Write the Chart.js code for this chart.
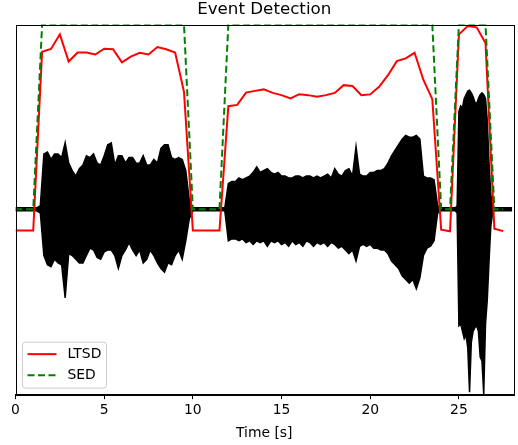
<!DOCTYPE html>
<html>
<head>
<meta charset="utf-8">
<script src="https://cdn.jsdelivr.net/npm/chart.js@4.4.0/dist/chart.umd.min.js"></script>
<style>
  html, body { margin: 0; padding: 0; background: #fff; }
  #wrap { width: 518px; height: 445px; }
</style>
</head>
<body>
<div id="wrap"><canvas id="myChart" width="518" height="445"></canvas></div>
<script>
// LTSD / SED frames, every 0.5 s
var frameTime = [0, 0.5, 1, 1.5, 2, 2.5, 3, 3.5, 4, 4.5, 5, 5.5, 6, 6.5, 7, 7.5, 8, 8.5, 9, 9.5,
    10, 10.5, 11, 11.5, 12, 12.5, 13, 13.5, 14, 14.5, 15, 15.5, 16, 16.5, 17, 17.5, 18, 18.5, 19, 19.5,
    20, 20.5, 21, 21.5, 22, 22.5, 23, 23.5, 24, 24.5, 25, 25.5, 26, 26.5, 27, 27.5]
var ltsd = [-0.115, -0.115, -0.115, 0.853, 0.868, 0.947, 0.80, 0.849, 0.849, 0.838, 0.869, 0.866, 0.795, 0.826, 0.847, 0.838, 0.878, 0.866, 0.849, 0.636,
    -0.115, -0.115, -0.115, -0.115, 0.558, 0.565, 0.632, 0.641, 0.649, 0.630, 0.618, 0.600, 0.623, 0.618, 0.609, 0.618, 0.630, 0.672, 0.667, 0.618,
    0.622, 0.663, 0.726, 0.802, 0.817, 0.847, 0.700, 0.596, -0.110, -0.119, 0.947, 0.992, 0.985, 0.900, -0.105, -0.118]
var sed = [0, 0, 0, 1, 1, 1, 1, 1, 1, 1, 1, 1, 1, 1, 1, 1, 1, 1, 1, 1,
    0, 0, 0, 0, 1, 1, 1, 1, 1, 1, 1, 1, 1, 1, 1, 1, 1, 1, 1, 1,
    1, 1, 1, 1, 1, 1, 1, 1, 0, 0, 1, 1, 1, 1, 0, 0]

// waveform envelope (upper / lower)
var waveTime = [
    0, 0.2, 0.4, 0.6, 0.8, 1, 1.2, 1.4, 1.6, 1.8, 2, 2.2, 2.4, 2.6, 2.8, 3, 3.2, 3.4, 3.6, 3.8,
    4, 4.2, 4.4, 4.6, 4.8, 5, 5.2, 5.4, 5.6, 5.8, 6, 6.2, 6.4, 6.6, 6.8, 7, 7.2, 7.4, 7.6, 7.8,
    8, 8.2, 8.4, 8.6, 8.8, 9, 9.2, 9.4, 9.6, 9.8, 10, 10.2, 10.4, 10.6, 10.8, 11, 11.2, 11.4, 11.6, 11.8,
    12, 12.2, 12.4, 12.6, 12.8, 13, 13.2, 13.4, 13.6, 13.8, 14, 14.2, 14.4, 14.6, 14.8, 15, 15.2, 15.4, 15.6, 15.8,
    16, 16.2, 16.4, 16.6, 16.8, 17, 17.2, 17.4, 17.6, 17.8, 18, 18.2, 18.4, 18.6, 18.8, 19, 19.2, 19.4, 19.6, 19.8,
    20, 20.2, 20.4, 20.6, 20.8, 21, 21.2, 21.4, 21.6, 21.8, 22, 22.2, 22.4, 22.6, 22.8, 23, 23.2, 23.4, 23.6, 23.8,
    24, 24.2, 24.4, 24.6, 24.8, 24.9, 25, 25.1, 25.2, 25.3, 25.4, 25.5, 25.6, 25.7, 25.8, 25.9,
    26, 26.1, 26.2, 26.3, 26.4, 26.5, 26.6, 26.7, 26.8, 26.9, 27, 27.2, 27.4, 27.6, 27.8, 28]
var waveUpper = [
    0.008, 0.008, 0.008, 0.008, 0.008, 0.008, 0.008, 0.02, 0.30, 0.31, 0.27, 0.30, 0.30, 0.28, 0.36, 0.25, 0.21, 0.18, 0.22, 0.24,
    0.29, 0.28, 0.30, 0.25, 0.24, 0.29, 0.35, 0.36, 0.24, 0.29, 0.29, 0.25, 0.28, 0.28, 0.25, 0.25, 0.29, 0.24, 0.24, 0.27,
    0.25, 0.33, 0.35, 0.35, 0.28, 0.27, 0.28, 0.27, 0.21, 0.05, 0.008, 0.008, 0.008, 0.008, 0.008, 0.008, 0.008, 0.008, 0.008, 0.008,
    0.14, 0.15, 0.15, 0.17, 0.16, 0.17, 0.18, 0.20, 0.23, 0.20, 0.21, 0.22, 0.20, 0.19, 0.20, 0.18, 0.18, 0.17, 0.17, 0.18,
    0.18, 0.17, 0.18, 0.18, 0.17, 0.18, 0.17, 0.18, 0.19, 0.17, 0.22, 0.19, 0.18, 0.21, 0.22, 0.18, 0.34, 0.19, 0.18, 0.18,
    0.20, 0.20, 0.21, 0.21, 0.22, 0.25, 0.29, 0.32, 0.35, 0.38, 0.40, 0.39, 0.39, 0.40, 0.38, 0.18, 0.17, 0.17, 0.16, 0.02,
    0.008, 0.008, 0.008, 0.008, 0.008, 0.02, 0.53, 0.56, 0.55, 0.60, 0.62, 0.64, 0.645, 0.63, 0.61, 0.58,
    0.57, 0.60, 0.62, 0.63, 0.62, 0.60, 0.48, 0.25, 0.08, 0.02, 0.008, 0.008, 0.008, 0.008, 0.008, 0.008]
var waveLower = [
    -0.008, -0.008, -0.008, -0.008, -0.008, -0.008, -0.008, -0.02, -0.25, -0.30, -0.31, -0.27, -0.29, -0.30, -0.48, -0.24, -0.25, -0.27, -0.29, -0.29,
    -0.25, -0.21, -0.22, -0.26, -0.27, -0.23, -0.22, -0.22, -0.25, -0.32, -0.25, -0.22, -0.18, -0.22, -0.25, -0.22, -0.29, -0.27, -0.22, -0.25,
    -0.29, -0.32, -0.34, -0.29, -0.30, -0.25, -0.22, -0.27, -0.17, -0.05, -0.008, -0.008, -0.008, -0.008, -0.008, -0.008, -0.008, -0.008, -0.008, -0.008,
    -0.17, -0.16, -0.16, -0.17, -0.16, -0.18, -0.17, -0.19, -0.17, -0.18, -0.17, -0.20, -0.17, -0.18, -0.17, -0.19, -0.18, -0.20, -0.17, -0.19,
    -0.18, -0.20, -0.17, -0.18, -0.20, -0.18, -0.19, -0.18, -0.20, -0.18, -0.19, -0.21, -0.20, -0.22, -0.24, -0.22, -0.28, -0.20, -0.19, -0.20,
    -0.19, -0.21, -0.21, -0.22, -0.22, -0.24, -0.28, -0.30, -0.32, -0.36, -0.38, -0.40, -0.38, -0.43, -0.37, -0.25, -0.21, -0.20, -0.17, -0.02,
    -0.008, -0.008, -0.008, -0.008, -0.008, -0.02, -0.63, -0.62, -0.66, -0.70, -0.68, -0.75, -0.99, -0.72, -0.66, -0.64,
    -0.63, -0.66, -0.80, -0.82, -1.0, -0.62, -0.49, -0.28, -0.09, -0.02, -0.008, -0.008, -0.008, -0.008, -0.008, -0.008]

var xTicks = [0, 5, 10, 15, 20, 25]

function pts(xs, ys) {
    return xs.map(function(x, i) { return { x: x, y: ys[i] } })
}

var FONT = "'DejaVu Sans', sans-serif"

// matplotlib-like box around the axes + legend inside the plot
var framePlugin = {
    id: 'frame',
    afterDraw: function(chart) {
        var ctx = chart.ctx
        var a = chart.chartArea
        ctx.save()
        ctx.strokeStyle = '#000'
        ctx.lineWidth = 1
        ctx.strokeRect(Math.round(a.left) + 0.5, Math.round(a.top) + 0.5,
            Math.round(a.right - a.left), Math.round(a.bottom - a.top))

        // legend
        var lx = a.left + 7, ly = a.bottom - 52
        ctx.beginPath()
        ctx.roundRect(lx, ly, 84, 46, 3)
        ctx.fillStyle = 'rgba(255,255,255,0.8)'
        ctx.fill()
        ctx.strokeStyle = '#cccccc'
        ctx.lineWidth = 1
        ctx.stroke()

        ctx.lineWidth = 2
        ctx.strokeStyle = '#ff0000'
        ctx.beginPath()
        ctx.moveTo(lx + 5, ly + 12)
        ctx.lineTo(lx + 34, ly + 12)
        ctx.stroke()

        ctx.strokeStyle = '#008000'
        ctx.setLineDash([7, 3.5])
        ctx.beginPath()
        ctx.moveTo(lx + 5, ly + 33)
        ctx.lineTo(lx + 34, ly + 33)
        ctx.stroke()
        ctx.setLineDash([])

        ctx.fillStyle = '#000'
        ctx.font = '13.9px ' + FONT
        ctx.textBaseline = 'middle'
        ctx.fillText('LTSD', lx + 45, ly + 12)
        ctx.fillText('SED', lx + 45, ly + 33)
        ctx.restore()
    }
}

var ctx = document.getElementById('myChart').getContext('2d')
var myChart = new Chart(ctx, {
    type: 'line',
    data: {
        datasets: [{
            label: 'SED',
            data: pts(frameTime, sed),
            borderColor: '#008000',
            borderWidth: 2,
            borderDash: [7, 3.5],
            pointRadius: 0,
            fill: false
        }, {
            label: 'LTSD',
            data: pts(frameTime, ltsd),
            borderColor: '#ff0000',
            borderWidth: 2,
            pointRadius: 0,
            fill: false
        }, {
            label: 'signal',
            data: pts(waveTime, waveUpper),
            borderColor: '#000',
            backgroundColor: '#000',
            borderWidth: 1.5,
            pointRadius: 0,
            fill: '+1'
        }, {
            label: 'signal-low',
            data: pts(waveTime, waveLower),
            borderColor: '#000',
            borderWidth: 1.5,
            pointRadius: 0,
            fill: false
        }]
    },
    options: {
        responsive: false,
        animation: false,
        devicePixelRatio: 1,
        layout: { padding: { left: 15.5, right: 5, top: 0, bottom: 0 } },
        elements: { line: { tension: 0 } },
        plugins: {
            legend: { display: false },
            tooltip: { enabled: false },
            title: {
                display: true,
                text: 'Event Detection',
                color: '#000',
                font: { family: FONT, size: 16.7, weight: 'normal' },
                padding: { top: 0, bottom: 4.5 }
            }
        },
        scales: {
            x: {
                type: 'linear',
                min: 0,
                max: 28.05,
                afterBuildTicks: function(axis) {
                    axis.ticks = xTicks.map(function(v) { return { value: v } })
                },
                ticks: {
                    color: '#000',
                    font: { family: FONT, size: 13.9 },
                    padding: 3,
                    maxRotation: 0
                },
                grid: {
                    drawOnChartArea: false,
                    drawTicks: true,
                    tickLength: 5,
                    color: '#000'
                },
                border: { color: '#000' },
                title: {
                    display: true,
                    text: 'Time [s]',
                    color: '#000',
                    font: { family: FONT, size: 13.9 },
                    padding: { top: 3, bottom: 3.5 }
                }
            },
            y: {
                display: false,
                min: -1,
                max: 1
            }
        }
    },
    plugins: [framePlugin]
})
</script>
</body>
</html>
